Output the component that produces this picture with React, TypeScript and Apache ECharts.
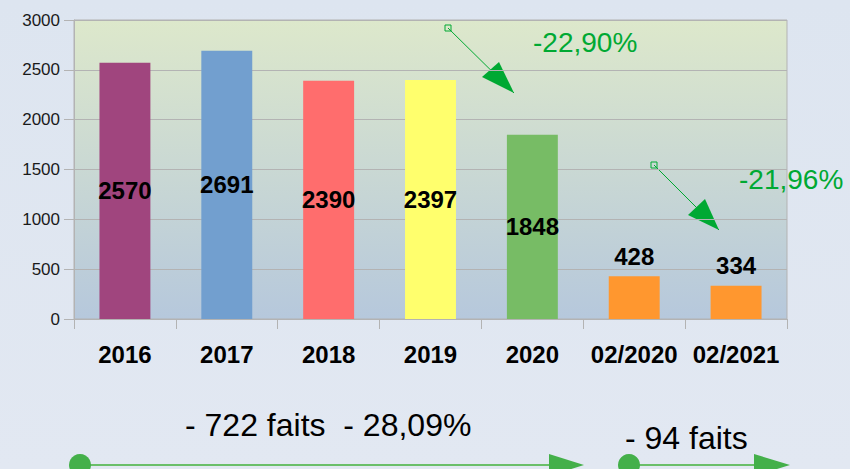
import React, { useEffect, useRef } from "react";
import * as echarts from "echarts";

const categories = ["2016", "2017", "2018", "2019", "2020", "02/2020", "02/2021"];
const values = [2570, 2691, 2390, 2397, 1848, 428, 334];
const barColors = ["#a0457e", "#729fcf", "#ff6d6d", "#ffff6d", "#77bc65", "#ff972f", "#ff972f"];
const labelTop = [false, false, false, false, false, true, true];
const yTicks = { min: 0, max: 3000, interval: 500 };
const pctLabels = ["-22,90%", "-21,96%"];
const bottomTexts = ["- 722 faits  - 28,09%", "- 94 faits"];

const GREEN = "#00a933";
const FONT = "'Liberation Sans', Arial, sans-serif";

function arrow(x1: number, y1: number, x2: number, y2: number, a1: number[], a2: number[]) {
  return [
    { type: "rect", shape: { x: x1 - 3, y: y1 - 3, width: 6, height: 6 }, style: { fill: "none", stroke: GREEN, lineWidth: 1 } },
    { type: "line", shape: { x1, y1, x2, y2 }, style: { stroke: GREEN, lineWidth: 1 } },
    { type: "polygon", shape: { points: [a1, a2, [x2, y2]] }, style: { fill: GREEN } },
  ];
}

export default function App() {
  const ref = useRef<HTMLDivElement>(null);
  useEffect(() => {
    if (!ref.current) return;
    const chart = echarts.init(ref.current, null, { renderer: "svg" });
    chart.setOption({
      animation: false,
      backgroundColor: new echarts.graphic.LinearGradient(0, 0, 0, 1, [
        { offset: 0, color: "#dde5f0" },
        { offset: 1, color: "#e2e8f2" },
      ]),
      grid: {
        left: 74,
        right: 63,
        top: 20,
        bottom: 150,
        show: true,
        borderColor: "#b3b3b3",
        borderWidth: 1,
        backgroundColor: new echarts.graphic.LinearGradient(0, 0, 0, 1, [
          { offset: 0, color: "#dde8cb" },
          { offset: 1, color: "#b6c8dc" },
        ]),
      },
      xAxis: {
        type: "category",
        data: categories,
        axisLine: { lineStyle: { color: "#b3b3b3", width: 1 } },
        axisTick: { show: true, length: 10, lineStyle: { color: "#b3b3b3" } },
        axisLabel: { color: "#000", fontSize: 24, fontWeight: "bold", fontFamily: FONT, margin: 23, interval: 0 },
      },
      yAxis: {
        type: "value",
        min: yTicks.min,
        max: yTicks.max,
        interval: yTicks.interval,
        axisLine: { show: true, lineStyle: { color: "#b3b3b3" } },
        axisTick: { show: true, length: 10, lineStyle: { color: "#b3b3b3" } },
        splitLine: { lineStyle: { color: "#b3b3b3", width: 1 } },
        axisLabel: { color: "#1a1a1a", fontSize: 17, fontFamily: FONT, margin: 14, formatter: (v: number) => String(v) },
      },
      series: [
        {
          type: "bar",
          barWidth: "50%",
          data: values.map((v, i) => ({
            value: v,
            itemStyle: { color: barColors[i] },
            label: {
              show: true,
              position: labelTop[i] ? "top" : "inside",
              distance: 8,
              color: "#000",
              fontSize: 24,
              fontWeight: "bold",
              fontFamily: FONT,
            },
          })),
        },
      ],
      graphic: [
        ...arrow(448, 28, 514, 93, [482, 77], [499, 62]),
        ...arrow(654, 165, 719, 230, [688, 215], [705, 199]),
        { type: "text", x: 533, y: 28, style: { text: pctLabels[0], fill: GREEN, font: `28px ${FONT}` } },
        { type: "text", x: 739, y: 165, style: { text: pctLabels[1], fill: GREEN, font: `28px ${FONT}` } },
        { type: "text", x: 185, y: 409, style: { text: bottomTexts[0], fill: "#000", font: `32px ${FONT}` } },
        { type: "text", x: 625, y: 422, style: { text: bottomTexts[1], fill: "#000", font: `32px ${FONT}` } },
        { type: "line", shape: { x1: 80, y1: 465, x2: 555, y2: 465 }, style: { stroke: "#6abf69", lineWidth: 2 } },
        { type: "circle", shape: { cx: 80, cy: 465, r: 11 }, style: { fill: "#44b04a" } },
        { type: "polygon", shape: { points: [[549, 454], [549, 476], [584, 465]] }, style: { fill: "#44b04a" } },
        { type: "line", shape: { x1: 629, y1: 465, x2: 758, y2: 465 }, style: { stroke: "#6abf69", lineWidth: 2 } },
        { type: "circle", shape: { cx: 629, cy: 465, r: 11 }, style: { fill: "#44b04a" } },
        { type: "polygon", shape: { points: [[754, 454], [754, 476], [790, 465]] }, style: { fill: "#44b04a" } },
      ],
    });
    return () => chart.dispose();
  }, []);
  return <div ref={ref} style={{ position: "absolute", left: 0, top: 0, width: 850, height: 469 }} />;
}
